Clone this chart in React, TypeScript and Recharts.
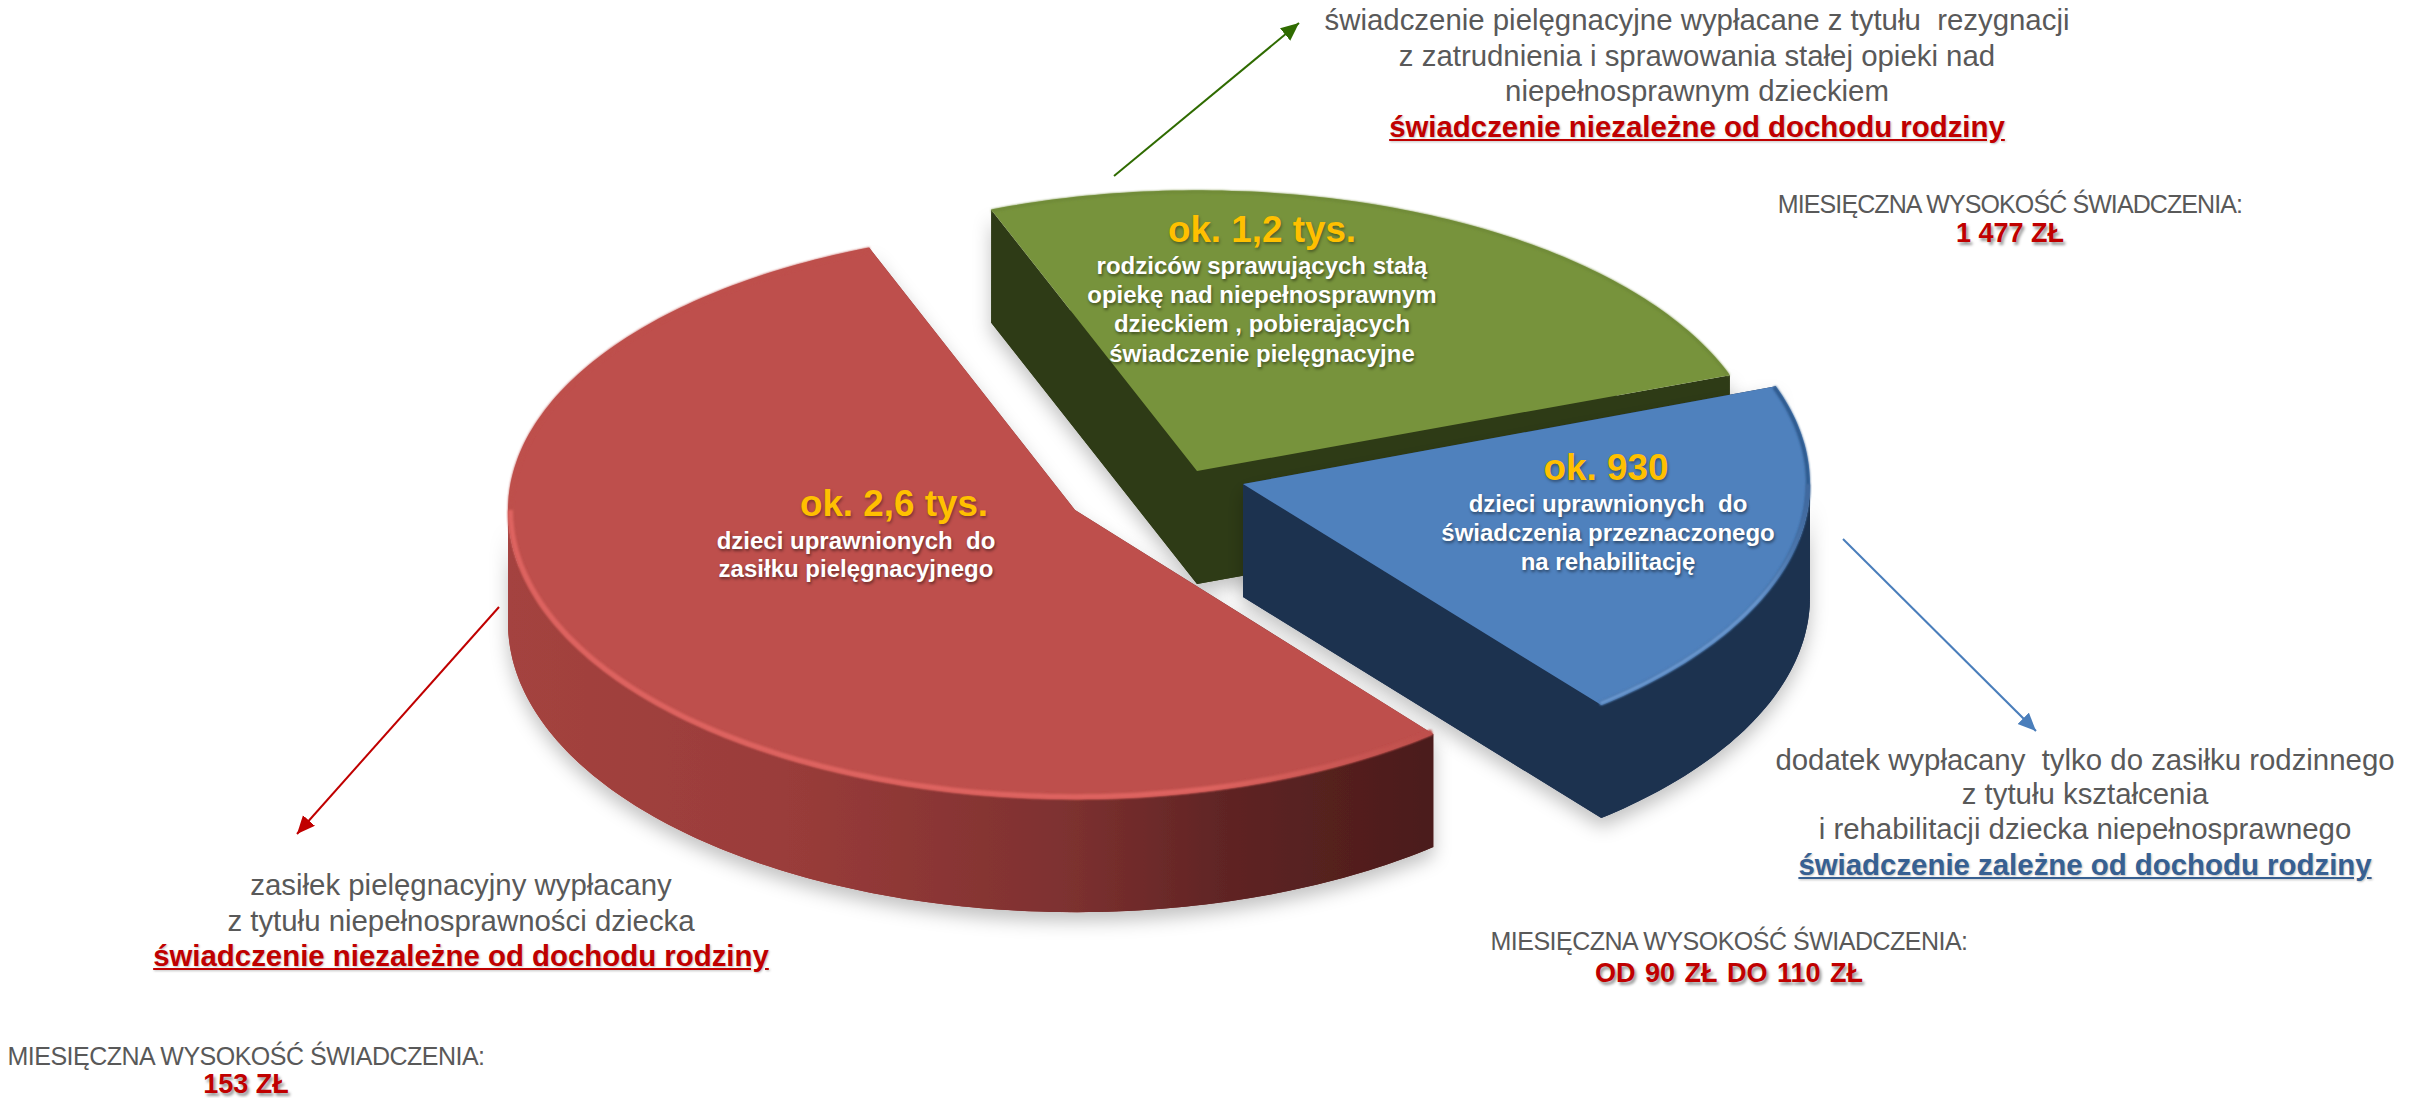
import { Pie, PieChart } from "recharts";

const SLICE_NAMES = ["swiadczenie pielegnacyjne", "dodatek rehabilitacyjny", "zasilek pielegnacyjny"];
const SLICE_VALUES = [1200, 930, 2600];

const CHART_W = 2422;
const CHART_H = 1098;
const RADIUS = 567;
const DEG = Math.PI / 180;

// exploded offset + look of each slice, same order as SLICE_NAMES
const SLICE_STYLE = [
  {
    dx: 122, dy: -39, squashTop: 0.495, squashBottom: 0.495, depth: 113, top: "#77933C",
    wall: [["0", "#2F3B17"], ["1", "#2F3B17"]], rim: "#6F8A38", rimFront: ["#6F8A38", "#6F8A38"], rimWidth: 3,
  },
  {
    dx: 168, dy: -26, squashTop: 0.505, squashBottom: 0.503, depth: 113, top: "#4F81BD",
    wall: [["0", "#1F3350"], ["1", "#1F3350"]], rim: "#2F5A8E", rimFront: ["#6A98D0", "#41699E"], rimWidth: 4,
  },
  {
    dx: 0, dy: 0, squashTop: 0.497, squashBottom: 0.51, depth: 113, top: "#BE4F4C",
    wall: [["0", "#A4433F"], ["0.3", "#9A3C3A"], ["0.6", "#7E3130"], ["0.78", "#5F2424"], ["1", "#4B1C1A"]],
    rim: "#BE4F4C", rimFront: ["#DE6460", "#BE4F4C"], rimWidth: 5,
  },
];

const LABEL_TITLES = ["ok. 1,2 tys.", "ok. 930", "ok. 2,6 tys."];
const LABEL_LINES = [
  ["rodziców sprawujących stałą", "opiekę nad niepełnosprawnym", "dzieckiem , pobierających", "świadczenie pielęgnacyjne"],
  ["dzieci uprawnionych  do", "świadczenia przeznaczonego", "na rehabilitację"],
  ["dzieci uprawnionych  do", "zasiłku pielęgnacyjnego"],
];

const NOTE_GREEN = ["świadczenie pielęgnacyjne wypłacane z tytułu  rezygnacji", "z zatrudnienia i sprawowania stałej opieki nad", "niepełnosprawnym dzieckiem"];
const NOTE_BLUE = ["dodatek wypłacany  tylko do zasiłku rodzinnego", "z tytułu kształcenia", "i rehabilitacji dziecka niepełnosprawnego"];
const NOTE_RED = ["zasiłek pielęgnacyjny wypłacany", "z tytułu niepełnosprawności dziecka"];
const INDEPENDENT = "świadczenie niezależne od dochodu rodziny";
const DEPENDENT = "świadczenie zależne od dochodu rodziny";
const AMOUNT_TITLE = "MIESIĘCZNA WYSOKOŚĆ ŚWIADCZENIA:";
const AMOUNTS = ["1 477 ZŁ", "OD 90 ZŁ DO 110 ZŁ", "153 ZŁ"];

const pieData = SLICE_NAMES.map((name, i) => ({ name, value: SLICE_VALUES[i] }));

function renderSlice(props: any) {
  const { cx, cy, outerRadius, startAngle, endAngle, index } = props;
  const st = SLICE_STYLE[index ?? SLICE_NAMES.indexOf(props.name)];
  const ox = cx + st.dx;
  const oy = cy + st.dy;
  const rx = outerRadius;
  // Recharts gives the angles, the ellipse squash is applied here
  const pt = (a: number, drop = 0, inset = 0) => {
    const sin = Math.sin(a * DEG);
    const ry = outerRadius * (sin > 0 ? st.squashTop : st.squashBottom) - inset;
    return [ox + (rx - inset) * Math.cos(a * DEG), oy - ry * sin + drop];
  };
  const arc = (from: number, to: number, drop = 0, inset = 0) => {
    const n = Math.max(2, Math.ceil(Math.abs(from - to)));
    const parts: string[] = [];
    for (let i = 0; i <= n; i++) {
      const p = pt(from + ((to - from) * i) / n, drop, inset);
      parts.push(`${p[0].toFixed(1)} ${p[1].toFixed(1)}`);
    }
    return parts;
  };
  const wedge = (drop: number) => `M ${ox} ${oy + drop} L ${arc(startAngle, endAngle, drop).join(" L ")} Z`;
  const quad = (a: number) => {
    const p = pt(a);
    return `M ${ox} ${oy} L ${p[0]} ${p[1]} L ${p[0]} ${p[1] + st.depth} L ${ox} ${oy + st.depth} Z`;
  };
  // only the part of the rim facing the viewer has an outer wall
  const lo = Math.max(Math.min(startAngle, endAngle), -180);
  const hi = Math.min(Math.max(startAngle, endAngle), 0);
  const hasFront = hi > lo;
  const id = `slice-${index}`;
  const wallFill = `url(#${id}-wall)`;
  const inset = st.rimWidth / 2;
  return (
    <g>
      <defs>
        <linearGradient id={`${id}-wall`} gradientUnits="userSpaceOnUse" x1={ox - rx} y1={0} x2={pt(-51)[0]} y2={0}>
          {st.wall.map(([o, c]) => (
            <stop key={o} offset={o} stopColor={c} />
          ))}
        </linearGradient>
        <linearGradient id={`${id}-rim`} gradientUnits="userSpaceOnUse" x1={pt(lo)[0]} y1={0} x2={pt(hi)[0]} y2={0}>
          <stop offset="0" stopColor={st.rimFront[0]} />
          <stop offset="0.75" stopColor={st.rimFront[0]} />
          <stop offset="1" stopColor={st.rimFront[1]} />
        </linearGradient>
        <filter id={`${id}-shadow`} x="-8%" y="-8%" width="116%" height="122%">
          <feDropShadow dx="0" dy="9" stdDeviation="9" floodColor="#000" floodOpacity="0.24" />
        </filter>
        <filter id={`${id}-soft`} x="-5%" y="-5%" width="110%" height="110%">
          <feGaussianBlur stdDeviation="1" />
        </filter>
      </defs>
      <g filter={`url(#${id}-shadow)`}>
        <path d={wedge(st.depth)} fill={wallFill} />
        <path d={quad(startAngle)} fill={wallFill} />
        <path d={quad(endAngle)} fill={wallFill} />
        {hasFront && (
          <path d={`M ${arc(lo, hi).join(" L ")} L ${arc(hi, lo, st.depth).join(" L ")} Z`} fill={wallFill} />
        )}
      </g>
      <path d={wedge(0)} fill={st.top} />
      <path
        d={`M ${arc(startAngle, endAngle, 0, inset).join(" L ")}`}
        fill="none"
        stroke={st.rim}
        strokeWidth={st.rimWidth}
        filter={`url(#${id}-soft)`}
      />
      {hasFront && (
        <path
          d={`M ${arc(lo, hi, 0, inset).join(" L ")}`}
          fill="none"
          stroke={`url(#${id}-rim)`}
          strokeWidth={st.rimWidth}
          filter={`url(#${id}-soft)`}
        />
      )}
    </g>
  );
}

const GRAY = "#595959";
const DARK_RED = "#C00000";
const NAVY = "#376092";

function Line({ x, y, text, style }: { x: number; y: number; text: string; style: React.CSSProperties }) {
  return (
    <div
      style={{
        position: "absolute",
        left: x - 600,
        top: y - 11,
        width: 1200,
        height: 22,
        lineHeight: "22px",
        textAlign: "center",
        whiteSpace: "pre",
        ...style,
      }}
    >
      {text}
    </div>
  );
}

const noteStyle = { color: GRAY, fontSize: 29.4 };
const linkStyle = { fontSize: 29.4, fontWeight: 700, textDecoration: "underline", textShadow: "1px 1px 2px rgba(0,0,0,.25)" };
const amountTitleStyle = { color: GRAY, fontSize: 25, letterSpacing: -0.5 };
const amountStyle = { color: DARK_RED, fontSize: 27, fontWeight: 700, textShadow: "2px 3px 3px rgba(0,0,0,.4)" };
const titleStyle = { color: "#FFC000", fontSize: 36.8, fontWeight: 700, textShadow: "1px 2px 3px rgba(0,0,0,.35)" };
const innerStyle = { color: "#FFFFFF", fontSize: 24, fontWeight: 700, textShadow: "1px 2px 3px rgba(0,0,0,.45)" };

export default function App() {
  return (
    <div style={{ position: "absolute", left: 0, top: 0, width: CHART_W, height: CHART_H, background: "#fff", overflow: "hidden", fontFamily: "'Liberation Sans', Arial, sans-serif" }}>
      <PieChart width={CHART_W} height={CHART_H} margin={{ top: 0, right: 0, bottom: 0, left: 0 }}>
        <Pie
          data={pieData}
          dataKey="value"
          nameKey="name"
          cx={1075}
          cy={510}
          innerRadius={0}
          outerRadius={RADIUS}
          startAngle={111.3}
          endAngle={-248.7}
          stroke="none"
          isAnimationActive={false}
          shape={renderSlice}
          inactiveShape={renderSlice}
          activeShape={renderSlice}
        />
      </PieChart>

      <svg width={CHART_W} height={CHART_H} style={{ position: "absolute", left: 0, top: 0, pointerEvents: "none" }}>
        <defs>
          {["#2F6B00", "#4A7EBB", "#C00000"].map((c, i) => (
            <marker key={c} id={`head-${i}`} markerUnits="userSpaceOnUse" markerWidth="20" markerHeight="18" refX="18" refY="8" orient="auto">
              <path d="M0 0 L18 8 L0 16 Z" fill={c} />
            </marker>
          ))}
        </defs>
        <line x1={1114} y1={176} x2={1299} y2={23} stroke="#2F6B00" strokeWidth={2} markerEnd="url(#head-0)" />
        <line x1={1843} y1={539} x2={2036} y2={731} stroke="#4A7EBB" strokeWidth={2} markerEnd="url(#head-1)" />
        <line x1={499} y1={607} x2={297} y2={834} stroke="#C00000" strokeWidth={2} markerEnd="url(#head-2)" />
      </svg>

      <Line x={1262} y={230} text={LABEL_TITLES[0]} style={titleStyle} />
      {LABEL_LINES[0].map((t, i) => <Line key={t} x={1262} y={[266, 295, 324, 354][i]} text={t} style={innerStyle} />)}
      <Line x={1606} y={468} text={LABEL_TITLES[1]} style={titleStyle} />
      {LABEL_LINES[1].map((t, i) => <Line key={t} x={1608} y={[504, 533, 562][i]} text={t} style={innerStyle} />)}
      <Line x={894} y={504} text={LABEL_TITLES[2]} style={titleStyle} />
      {LABEL_LINES[2].map((t, i) => <Line key={t} x={856} y={[541, 569][i]} text={t} style={innerStyle} />)}

      {NOTE_GREEN.map((t, i) => <Line key={t} x={1697} y={[20, 56, 91][i]} text={t} style={noteStyle} />)}
      <Line x={1697} y={127} text={INDEPENDENT} style={{ ...linkStyle, color: DARK_RED }} />
      <Line x={2010} y={204} text={AMOUNT_TITLE} style={{ ...amountTitleStyle, letterSpacing: -0.9 }} />
      <Line x={2010} y={233} text={AMOUNTS[0]} style={amountStyle} />

      {NOTE_BLUE.map((t, i) => <Line key={t} x={2085} y={[760, 794, 829][i]} text={t} style={noteStyle} />)}
      <Line x={2085} y={865} text={DEPENDENT} style={{ ...linkStyle, color: NAVY }} />
      <Line x={1729} y={941} text={AMOUNT_TITLE} style={amountTitleStyle} />
      <Line x={1729} y={973} text={AMOUNTS[1]} style={{ ...amountStyle, wordSpacing: 2 }} />

      {NOTE_RED.map((t, i) => <Line key={t} x={461} y={[885, 921][i]} text={t} style={noteStyle} />)}
      <Line x={461} y={956} text={INDEPENDENT} style={{ ...linkStyle, color: DARK_RED }} />
      <Line x={246} y={1056} text={AMOUNT_TITLE} style={amountTitleStyle} />
      <Line x={246} y={1084} text={AMOUNTS[2]} style={amountStyle} />
    </div>
  );
}
